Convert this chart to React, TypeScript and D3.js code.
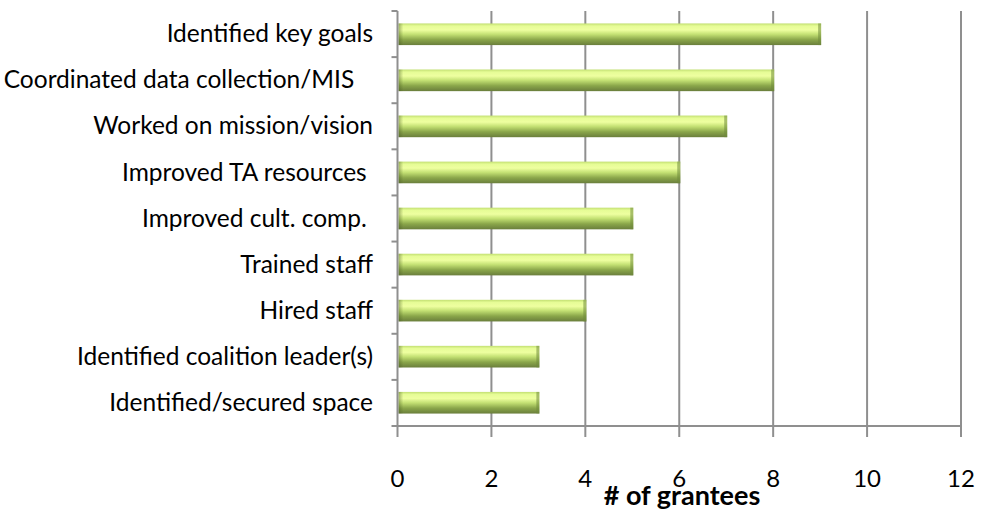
import React, { useEffect, useRef } from 'react';
import * as d3 from 'd3';

const categories = [
  'Identified key goals',
  'Coordinated data collection/MIS   ',
  'Worked on mission/vision',
  'Improved TA resources ',
  'Improved cult. comp. ',
  'Trained staff',
  'Hired staff',
  'Identified coalition leader(s)',
  'Identified/secured space',
];
const grantees = [9, 8, 7, 6, 5, 5, 4, 3, 3];
const xTicks = [0, 2, 4, 6, 8, 10, 12];
const xTitle = '# of grantees';

const W = 982;
const H = 511;
const FONT = 'Lato, "Open Sans", sans-serif';

export default function App() {
  const ref = useRef<SVGSVGElement>(null);

  useEffect(() => {
    const svg = d3.select(ref.current);
    svg.selectAll('*').remove();

    const left = 397.5, right = 961, top = 11, bottom = 426;

    const x = d3.scaleLinear().domain([0, 12]).range([left, right]);
    const y = d3.scaleBand<string>().domain(categories).range([top, bottom]).paddingInner(0.53).paddingOuter(0.27);

    // bar gradient (cylinder-ish shading)
    const defs = svg.append('defs');
    const grad = defs.append('linearGradient')
      .attr('id', 'barGrad').attr('x1', 0).attr('y1', 0).attr('x2', 0).attr('y2', 1);
    [
      [0, '#c2df72'],
      [0.12, '#e6fc96'],
      [0.3, '#eeffa0'],
      [0.5, '#c4e174'],
      [0.75, '#8aa64a'],
      [1, '#6a7e3c'],
    ].forEach(([o, c]) => grad.append('stop').attr('offset', o as number).attr('stop-color', c as string));

    const endGrad = defs.append('linearGradient')
      .attr('id', 'endGrad').attr('x1', 0).attr('y1', 0).attr('x2', 1).attr('y2', 0);
    [
      [0, 'rgba(70,90,30,0.45)'],
      [0.4, 'rgba(70,90,30,0)'],
    ].forEach(([o, c]) => endGrad.append('stop').attr('offset', o as number).attr('stop-color', c as string));

    // vertical gridlines
    svg.append('g')
      .selectAll('line')
      .data(xTicks.slice(1))
      .join('line')
      .attr('x1', d => x(d)).attr('x2', d => x(d))
      .attr('y1', top).attr('y2', bottom)
      .attr('stroke', '#8f8f8f').attr('stroke-width', 2);

    // bars
    const bars = svg.append('g');
    bars.selectAll('rect.bar')
      .data(grantees)
      .join('rect')
      .attr('class', 'bar')
      .attr('x', x(0) + 1)
      .attr('y', (d, i) => y(categories[i])!)
      .attr('width', d => x(d) - x(0))
      .attr('height', y.bandwidth())
      .attr('fill', 'url(#barGrad)');

    bars.selectAll('rect.end')
      .data(grantees)
      .join('rect')
      .attr('class', 'end')
      .attr('x', x(0) + 1)
      .attr('y', (d, i) => y(categories[i])!)
      .attr('width', 12)
      .attr('height', y.bandwidth())
      .attr('fill', 'url(#endGrad)');

    bars.selectAll('rect.edge')
      .data(grantees)
      .join('rect')
      .attr('class', 'edge')
      .attr('x', d => x(d) - 2)
      .attr('y', (d, i) => y(categories[i])!)
      .attr('width', 3)
      .attr('height', y.bandwidth())
      .attr('fill', '#6f8a3c')
      .attr('opacity', 0.55);

    // left axis
    const yAxis = svg.append('g');
    yAxis.append('line')
      .attr('x1', left).attr('x2', left).attr('y1', top).attr('y2', bottom)
      .attr('stroke', '#8f8f8f').attr('stroke-width', 2);
    const bounds = d3.range(categories.length + 1).map(i => top + (i * (bottom - top)) / categories.length);
    yAxis.selectAll('line.tick')
      .data(bounds)
      .join('line')
      .attr('class', 'tick')
      .attr('x1', left - 6).attr('x2', left)
      .attr('y1', d => d).attr('y2', d => d)
      .attr('stroke', '#8f8f8f').attr('stroke-width', 2);
    yAxis.selectAll('text')
      .data(categories)
      .join('text')
      .attr('x', 373)
      .attr('y', d => y(d)! + y.bandwidth() / 2)
      .attr('dy', '0.33em')
      .attr('text-anchor', 'end')
      .style('white-space', 'pre')
      .attr('font-family', FONT)
      .attr('font-size', 24.5)
      .attr('fill', '#000')
      .text(d => d);

    // bottom axis
    const xAxis = svg.append('g');
    xAxis.append('line')
      .attr('x1', left).attr('x2', right).attr('y1', bottom).attr('y2', bottom)
      .attr('stroke', '#8f8f8f').attr('stroke-width', 2);
    xAxis.selectAll('line.tick')
      .data(xTicks)
      .join('line')
      .attr('class', 'tick')
      .attr('x1', d => x(d)).attr('x2', d => x(d))
      .attr('y1', bottom).attr('y2', bottom + 11)
      .attr('stroke', '#8f8f8f').attr('stroke-width', 2);
    xAxis.selectAll('text')
      .data(xTicks)
      .join('text')
      .attr('x', d => x(d))
      .attr('y', 487)
      .attr('text-anchor', 'middle')
      .attr('font-family', FONT)
      .attr('font-size', 24)
      .attr('fill', '#000')
      .text(d => d);

    svg.append('text')
      .attr('x', 682)
      .attr('y', 505)
      .attr('text-anchor', 'middle')
      .attr('font-family', FONT)
      .attr('font-size', 27)
      .attr('font-weight', 'bold')
      .attr('fill', '#000')
      .text(xTitle);
  }, []);

  return (
    <svg
      ref={ref}
      width={W}
      height={H}
      style={{ position: 'absolute', left: 0, top: 0, background: '#fff' }}
    />
  );
}
